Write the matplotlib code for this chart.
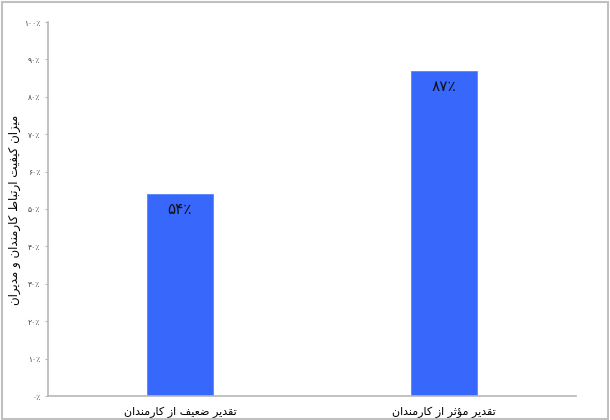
import matplotlib
matplotlib.use("Agg")
import matplotlib.pyplot as plt
from matplotlib.patches import Rectangle
from matplotlib.ticker import FuncFormatter

categories = ["تقدیر ضعیف از کارمندان", "تقدیر مؤثر از کارمندان"]
values = [54, 87]
ylabel_text = "میزان کیفیت ارتباط کارمندان و مدیران"
yticks = [0, 10, 20, 30, 40, 50, 60, 70, 80, 90, 100]

# --- minimal Persian shaping (presentation forms) ---
FORMS = {
    '\u0627': ('\uFE8D', '\uFE8E', None, None),
    '\u0628': ('\uFE8F', '\uFE90', '\uFE91', '\uFE92'),
    '\u062A': ('\uFE95', '\uFE96', '\uFE97', '\uFE98'),
    '\u062B': ('\uFE99', '\uFE9A', '\uFE9B', '\uFE9C'),
    '\u062F': ('\uFEA9', '\uFEAA', None, None),
    '\u0631': ('\uFEAD', '\uFEAE', None, None),
    '\u0632': ('\uFEAF', '\uFEB0', None, None),
    '\u0636': ('\uFEBD', '\uFEBE', '\uFEBF', '\uFEC0'),
    '\u0637': ('\uFEC1', '\uFEC2', '\uFEC3', '\uFEC4'),
    '\u0639': ('\uFEC9', '\uFECA', '\uFECB', '\uFECC'),
    '\u0641': ('\uFED1', '\uFED2', '\uFED3', '\uFED4'),
    '\u0642': ('\uFED5', '\uFED6', '\uFED7', '\uFED8'),
    '\u0645': ('\uFEE1', '\uFEE2', '\uFEE3', '\uFEE4'),
    '\u0646': ('\uFEE5', '\uFEE6', '\uFEE7', '\uFEE8'),
    '\u0648': ('\uFEED', '\uFEEE', None, None),
    '\u0624': ('\uFE85', '\uFE86', None, None),
    '\u06A9': ('\uFB8E', '\uFB8F', '\uFB90', '\uFB91'),
    '\u06CC': ('\uFBFC', '\uFBFD', '\uFBFE', '\uFBFF'),
}


def joins_next(ch):
    return ch in FORMS and FORMS[ch][2] is not None


def shape(text):
    out = []
    n = len(text)
    for i, ch in enumerate(text):
        if ch not in FORMS:
            out.append(ch)
            continue
        prev = text[i - 1] if i > 0 else ''
        nxt = text[i + 1] if i < n - 1 else ''
        jp = joins_next(prev)
        jn = joins_next(ch) and nxt in FORMS
        iso, fin, ini, med = FORMS[ch]
        if jp and jn:
            g = med
        elif jp:
            g = fin
        elif jn:
            g = ini
        else:
            g = iso
        out.append(g)
    return ''.join(reversed(out))


FA_DIGITS = str.maketrans("0123456789", "۰۱۲۳۴۵۶۷۸۹")


def fa_pct(v):
    return str(int(v)).translate(FA_DIGITS) + "٪"


plt.rcParams['font.family'] = ['DejaVu Sans']

fig = plt.figure(figsize=(6.1, 4.2), dpi=100)
ax = fig.add_axes([48 / 610, 1 - 396 / 420, 528 / 610, 374 / 420])

grey = '#b8b8b8'
x = list(range(len(categories)))
bars = ax.bar(x, values, width=0.25, color='#3767fb', edgecolor='#5a84fb', linewidth=0.6, zorder=2)

for xi, v in zip(x, values):
    ax.text(xi, v - 2.2, fa_pct(v), ha='center', va='top', fontsize=11, color='#111111')

ax.set_xlim(-0.5, 1.5)
ax.set_ylim(0, 100)
ax.set_yticks(yticks)
ax.yaxis.set_major_formatter(FuncFormatter(lambda v, p: fa_pct(v)))
ax.set_xticks(x)
ax.set_xticklabels([shape(c) for c in categories], fontsize=8)
ax.tick_params(axis='x', length=0, pad=8)
ax.tick_params(axis='y', length=2.5, width=0.8, color=grey, labelsize=5.5, labelcolor='#444444', pad=3)

for s in ['top', 'right']:
    ax.spines[s].set_visible(False)
for s in ['left', 'bottom']:
    ax.spines[s].set_color(grey)
    ax.spines[s].set_linewidth(1.2)

fig.text(15 / 610, 1 - 210 / 420, shape(ylabel_text), rotation=90, ha='center', va='center', fontsize=8.5)

fig.patches.append(Rectangle((2 / 610, 1 / 420), 606 / 610, 417 / 420, transform=fig.transFigure,
                             fill=False, edgecolor='#c0c0c0', linewidth=1.5))

fig.savefig("out.png", dpi=100)
